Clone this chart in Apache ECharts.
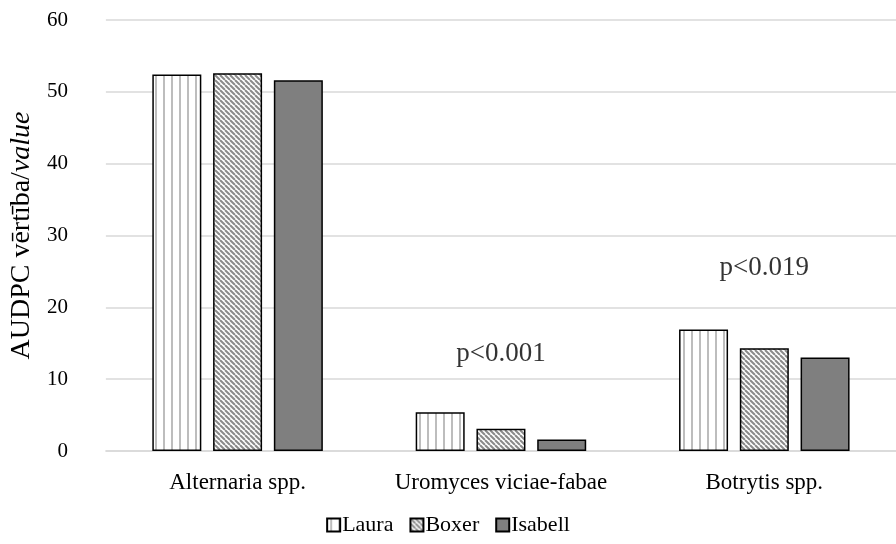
<!DOCTYPE html>
<html>
<head>
<meta charset="utf-8">
<script src="https://cdn.jsdelivr.net/npm/echarts@6/dist/echarts.min.js"></script>
<style>
  html, body { margin: 0; padding: 0; background: #fff; }
  #chart { width: 896px; height: 544px; }
</style>
</head>
<body>
<div id="chart"></div>
<script>
// AUDPC values per disease for three varieties
const categories = ['Alternaria spp.', 'Uromyces viciae-fabae', 'Botrytis spp.'];
const laura   = [52.4, 5.4, 16.9];
const boxer   = [52.6, 3.1, 14.3];
const isabell = [51.6, 1.6, 13.0];
const seriesNames = ['Laura', 'Boxer', 'Isabell'];
const yTicks = [0, 10, 20, 30, 40, 50, 60];

// significance notes placed above groups
const pNotes = [
  { category: 'Uromyces viciae-fabae', y: 13.5, text: 'p<0.001' },
  { category: 'Botrytis spp.', y: 25.5, text: 'p<0.019' }
];

const FONT = '"Liberation Serif", "Times New Roman", serif';

// white fill with vertical grey stripes
function verticalStripes() {
  const c = document.createElement('canvas');
  c.width = 8; c.height = 8;
  const g = c.getContext('2d');
  g.fillStyle = '#ffffff';
  g.fillRect(0, 0, 8, 8);
  g.fillStyle = '#bdbdbd';
  g.fillRect(3, 0, 2, 8);
  return c;
}

// white fill with downward diagonal grey stripes
function diagonalStripes() {
  const s = 5;
  const c = document.createElement('canvas');
  c.width = s; c.height = s;
  const g = c.getContext('2d');
  g.fillStyle = '#ffffff';
  g.fillRect(0, 0, s, s);
  g.strokeStyle = '#8a8a8a';
  g.lineWidth = 2;
  for (let k = -1; k <= 1; k++) {
    g.beginPath();
    g.moveTo(k * s, 0);
    g.lineTo(k * s + s, s);
    g.stroke();
  }
  return c;
}

const fills = [
  { image: verticalStripes(), repeat: 'repeat' },
  { image: diagonalStripes(), repeat: 'repeat' },
  '#7f7f7f'
];
const values = [laura, boxer, isabell];

const chart = echarts.init(document.getElementById('chart'));

const barSeries = seriesNames.map((name, i) => ({
  name: name,
  type: 'bar',
  data: values[i],
  barWidth: 49,
  barGap: '24%',
  itemStyle: {
    color: fills[i],
    borderColor: '#000000',
    borderWidth: 1.5
  },
  emphasis: { disabled: true }
}));

const noteSeries = {
  name: 'notes',
  type: 'scatter',
  symbolSize: 0,
  silent: true,
  data: pNotes.map(p => ({ value: [p.category, p.y], note: p.text })),
  label: {
    show: true,
    position: 'inside',
    formatter: p => p.data.note,
    color: '#000',
    fontFamily: FONT,
    fontSize: 27
  }
};

chart.setOption({
  animation: false,
  backgroundColor: '#ffffff',
  grid: { left: 86, right: 0, top: 20, bottom: 93, containLabel: false },
  legend: {
    data: seriesNames,
    bottom: 3,
    left: 'center',
    icon: 'rect',
    itemWidth: 13,
    itemHeight: 13,
    itemGap: 16,
    textStyle: { fontFamily: FONT, fontSize: 22, color: '#000', padding: [0, 0, 0, -3] }
  },
  xAxis: {
    type: 'category',
    data: categories,
    axisLine: { show: true, lineStyle: { color: '#d9d9d9', width: 1.5 } },
    axisTick: { show: false },
    axisLabel: { interval: 0, fontFamily: FONT, fontSize: 23, color: '#000', margin: 20 }
  },
  yAxis: {
    type: 'value',
    min: yTicks[0],
    max: yTicks[yTicks.length - 1],
    interval: 10,
    axisLine: { show: false },
    axisTick: { show: false },
    splitLine: { lineStyle: { color: '#d9d9d9', width: 1.5 } },
    axisLabel: { fontFamily: FONT, fontSize: 21, color: '#000', margin: 38, align: 'right' },
    name: '{n|AUDPC vērtība/}{i|value}',
    nameLocation: 'middle',
    nameRotate: 90,
    nameGap: 51,
    nameTextStyle: {
      rich: {
        n: { fontFamily: FONT, fontSize: 28, color: '#000' },
        i: { fontFamily: FONT, fontSize: 28, color: '#000', fontStyle: 'italic' }
      }
    }
  },
  series: barSeries.concat([noteSeries])
});
</script>
</body>
</html>
